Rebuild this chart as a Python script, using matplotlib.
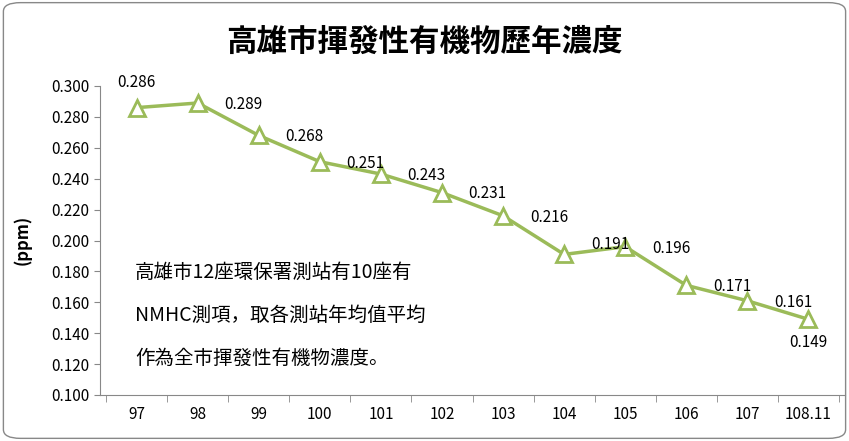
import matplotlib.pyplot as plt
from matplotlib import font_manager
from matplotlib.patches import FancyBboxPatch

# 找一個可用的中文字型
cjk = [f.name for f in font_manager.fontManager.ttflist if 'CJK' in f.name]
pref = [n for n in ['Noto Sans CJK TC', 'Noto Sans CJK JP', 'Noto Sans CJK SC', 'Noto Sans CJK KR'] if n in cjk]
plt.rcParams['font.family'] = (pref or cjk[:1]) + ['DejaVu Sans']

years = ['97', '98', '99', '100', '101', '102', '103', '104', '105', '106', '107', '108.11']
values = [0.286, 0.289, 0.268, 0.251, 0.243, 0.231, 0.216, 0.191, 0.196, 0.171, 0.161, 0.149]
label_texts = ['0.286', '0.289', '0.268', '0.251', '0.243', '0.231', '0.216', '0.191', '0.196', '0.171', '0.161', '0.149']

fig = plt.figure(figsize=(8.49, 4.41), dpi=100)
fig.patches.append(FancyBboxPatch((0.004, 0.006), 0.992, 0.988, boxstyle='round,pad=0,rounding_size=0.02',
                                  transform=fig.transFigure, fill=False, edgecolor='#888888', lw=1))

ax = fig.add_axes([100 / 849, 1 - 395 / 441, 745 / 849, 309 / 441])
x = list(range(len(years)))
ax.plot(x, values, color='#9BBB59', lw=2.5, marker='^', markersize=11,
        markerfacecolor='white', markeredgecolor='#9BBB59', markeredgewidth=2, zorder=3)

for i, (v, t) in enumerate(zip(values, label_texts)):
    if i == 0:
        off = (0, 18)
    elif i == len(values) - 1:
        off = (0, -17)
    elif i == 7:
        off = (33, 7)
    else:
        off = (33, -1)
    ax.annotate(t, (i, v), xytext=off, textcoords='offset points', ha='center', va='center', fontsize=11)

ax.set_xlim(-0.6, len(years) - 0.4)
ax.set_ylim(0.1, 0.3)
ax.set_xticks(x)
ax.set_xticklabels(years, fontsize=11)
ax.set_yticks([0.1 + 0.02 * k for k in range(11)])
ax.set_yticklabels(['%.3f' % (0.1 + 0.02 * k) for k in range(11)], fontsize=11)
ax.tick_params(axis='x', length=0, pad=8)
ax.tick_params(axis='y', length=4, color='#888888')
for s in ['top', 'right']:
    ax.spines[s].set_visible(False)
for s in ['left', 'bottom']:
    ax.spines[s].set_color('#888888')
ax.set_xticks([k + 0.5 for k in range(-1, len(years))], minor=True)
ax.tick_params(axis='x', which='minor', length=5, color='#888888')

fig.text(0.5, 1 - 42 / 441, '高雄市揮發性有機物歷年濃度', ha='center', va='center', fontsize=22, fontweight='bold')
fig.text(22 / 849, 1 - 240 / 441, '(ppm)', rotation=90, ha='center', va='center', fontsize=12, fontweight='bold')

note = ['高雄市12座環保署測站有10座有', 'NMHC測項，取各測站年均值平均', '作為全市揮發性有機物濃度。']
for k, line in enumerate(note):
    fig.text(135 / 849, 1 - (272 + 43 * k) / 441, line, ha='left', va='center', fontsize=14)

fig.savefig('out.png', dpi=100)
